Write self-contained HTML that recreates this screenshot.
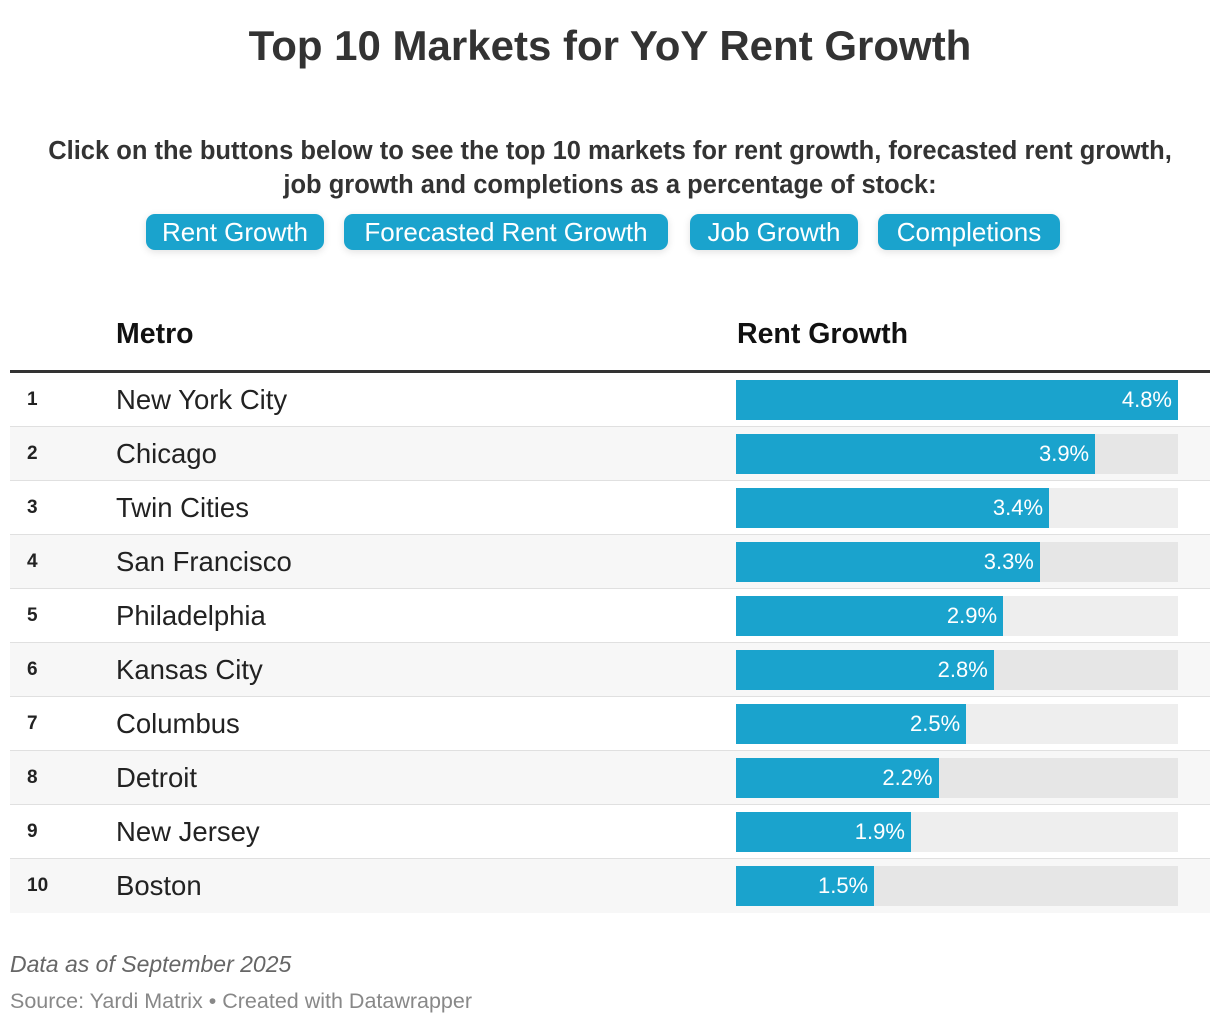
<!DOCTYPE html>
<html><head><meta charset="utf-8"><style>
body{margin:0;width:1220px;height:1026px;background:#fff;font-family:"Liberation Sans",sans-serif;color:#222;position:relative;overflow:hidden}
.abs{position:absolute}
h1{position:absolute;left:0;width:1220px;top:22px;margin:0;text-align:center;font-size:42px;font-weight:bold;color:#333}
.sub{left:0;width:1220px;top:134px;text-align:center;font-size:25.5px;font-weight:bold;color:#333;line-height:34px;white-space:nowrap}
.btn{top:214px;height:36px;background:#1aa3cd;color:#fff;border-radius:9px;font-size:26px;line-height:36px;text-align:center;box-shadow:0 2px 8px rgba(0,0,0,.12);cursor:pointer;white-space:nowrap}
.hdr{top:318px;font-size:28.5px;font-weight:bold;color:#111}
.row{left:10px;width:1200px;height:54px}
.num{left:17px;font-size:19px;font-weight:bold;line-height:54px}
.metro{left:106px;font-size:27.5px;line-height:54px}
.foot1{left:10px;top:951px;font-size:23px;font-style:italic;color:#666}
.foot2{left:10px;top:989px;font-size:21.5px;color:#888}
</style></head><body>
<h1>Top 10 Markets for YoY Rent Growth</h1>
<div class="abs sub">Click on the buttons below to see the top 10 markets for rent growth, forecasted rent growth,<br>job growth and completions as a percentage of stock:</div>
<div class="abs btn" style="left:146px;width:178px">Rent Growth</div>
<div class="abs btn" style="left:344px;width:324px">Forecasted Rent Growth</div>
<div class="abs btn" style="left:690px;width:168px">Job Growth</div>
<div class="abs btn" style="left:878px;width:182px">Completions</div>
<div class="abs hdr" style="left:116px">Metro</div>
<div class="abs hdr" style="left:737px">Rent Growth</div>
<div class="abs" style="left:10px;top:370px;width:1200px;height:3px;background:#333"></div>
<div id="tbl"></div>
<div class="abs foot1">Data as of September 2025</div>
<div class="abs foot2">Source: Yardi Matrix • Created with Datawrapper</div>
<script>
const metros=["New York City","Chicago","Twin Cities","San Francisco","Philadelphia","Kansas City","Columbus","Detroit","New Jersey","Boston"];
const values=[4.8,3.9,3.4,3.3,2.9,2.8,2.5,2.2,1.9,1.5];
const maxVal=4.8;
const x0=736,xW=442,top0=373,rh=54;
const xs=v=>v/maxVal*xW;
const tbl=document.getElementById('tbl');
metros.forEach((m,i)=>{
  const y=top0+i*rh;
  const row=document.createElement('div');
  row.className='abs row';
  row.style.top=y+'px';
  row.style.background=i%2?'#f7f7f7':'#fff';
  if(i<metros.length-1)row.style.borderBottom='1px solid #e0e0e0';
  row.style.boxSizing='border-box';
  
  
  tbl.appendChild(row);
  const n=document.createElement('div');n.className='abs num';n.style.top='0';n.textContent=i+1;
  
  
  row.appendChild(n);
  const t=document.createElement('div');t.className='abs metro';t.style.top='0';t.textContent=m;
  
  
  row.appendChild(t);
  const tr=document.createElement('div');tr.className='abs';
  tr.style.cssText=`left:${x0-10}px;top:7px;width:${xW}px;height:40px;background:${i%2?'#e6e6e6':'#eeeeee'}`;
  
  
  row.appendChild(tr);
  const b=document.createElement('div');b.className='abs';
  b.style.cssText=`left:${x0-10}px;top:7px;width:${xs(values[i])}px;height:40px;background:#1aa3cd;color:#fff;font-size:22px;line-height:40px;text-align:right;box-sizing:border-box;padding-right:6px`;
  b.textContent=values[i].toFixed(1)+'%';
  
  
  row.appendChild(b);
});
</script>
</body></html>
